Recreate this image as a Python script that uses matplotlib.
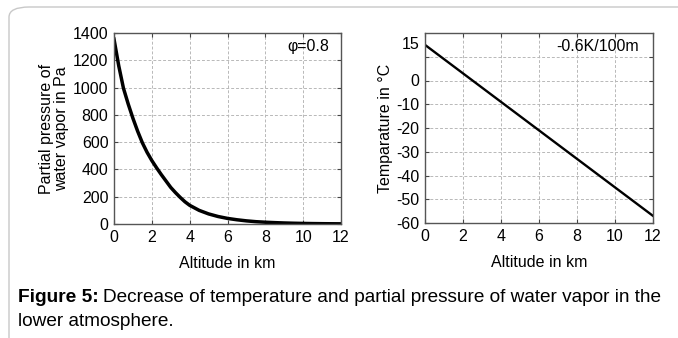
'''
Figure 5: temperature and water vapor partial pressure vs altitude.
'''

import matplotlib
matplotlib.use('Agg')
import matplotlib.pyplot as plt
import matplotlib.transforms as mtransforms
from matplotlib.patches import FancyBboxPatch

# altitude [km] and partial pressure of water vapor [Pa]
alt_p = [0, 0.25, 0.5, 0.75, 1.0, 1.25, 1.5, 1.75, 2.0, 2.25, 2.5, 2.75,
         3.0, 3.25, 3.5, 3.75, 4.0, 4.5, 5.0, 5.5, 6.0, 6.5, 7.0, 7.5,
         8.0, 8.5, 9.0, 9.5, 10.0, 10.5, 11.0, 11.5, 12.0]
pressure = [1355, 1160, 995, 880, 775, 680, 595, 525, 465, 412, 362, 315,
            268, 230, 195, 163, 137, 100, 74, 55, 41, 31, 23, 17,
            13, 10, 7.5, 5.6, 4.2, 3.1, 2.3, 1.7, 1.3]

# temperature [C] at 0 and 12 km (-0.6K/100m)
alt_t = [0, 12]
temperature = [15, -57]

xticks = [0, 2, 4, 6, 8, 10, 12]
pticks = [0, 200, 400, 600, 800, 1000, 1200, 1400]
tticks = [-60, -50, -40, -30, -20, -10, 0, 10]
tlabels = ['-60', '-50', '-40', '-30', '-20', '-10', '0', '']

matplotlib.rcParams.update({'font.family': 'Liberation Sans', 'font.size': 11})

def style_axes(ax):
    ax.grid(True, color='#b8b8b8', linestyle=(0, (3, 2)), linewidth=0.7)
    ax.tick_params(direction='in', length=3, top=True, right=True,
                   color='#444444', pad=4, labelsize=11.5)
    for s in ax.spines.values():
        s.set_color('#555555')
        s.set_linewidth(1.0)
    ax.set_axisbelow(True)

fig = plt.figure(figsize=(6.78, 3.38), dpi=100)

# rounded frame around figure + caption (behind the axes)
frame = FancyBboxPatch((9/678., -0.2), 1.2, 1.2 - 7/338.,
                       boxstyle='round,pad=0,rounding_size=0.03',
                       transform=fig.transFigure, facecolor='white',
                       edgecolor='#c8c8c8', linewidth=1.0, zorder=-5)
fig.patches.append(frame)

## Left: partial pressure
ax = fig.add_axes([114/678., 1 - 224/338., 227/678., 191/338.])
ax.plot(alt_p, pressure, color='k', linewidth=2.5, solid_joinstyle='round')
ax.set_xlim(0, 12)
ax.set_ylim(0, 1400)
ax.set_xticks(xticks)
ax.set_yticks(pticks)
style_axes(ax)
ax.set_xlabel('Altitude in km', fontsize=11.5, labelpad=8)
ax.set_ylabel('Partial pressure of\nwater vapor in Pa', fontsize=11.5,
              labelpad=3, linespacing=1.0)
ax.text(0.95, 0.93, u'\u03c6=0.8', transform=ax.transAxes, ha='right',
        va='center', fontsize=11.5)

## Right: temperature
ax2 = fig.add_axes([425/678., 1 - 223/338., 228/678., 190/338.])
ax2.plot(alt_t, temperature, color='k', linewidth=1.7)
ax2.set_xlim(0, 12)
ax2.set_ylim(-60, 20)
ax2.set_xticks(xticks)
ax2.set_yticks(tticks)
ax2.set_yticklabels(tlabels)
style_axes(ax2)
trans = mtransforms.blended_transform_factory(ax2.transAxes, ax2.transData)
ax2.text(-0.025, 15, '15', transform=trans, ha='right', va='center',
         fontsize=11.5)
ax2.set_xlabel('Altitude in km', fontsize=11.5, labelpad=8)
ax2.set_ylabel(u'Temparature in \u00b0C', fontsize=11.5, labelpad=2)
ax2.text(0.94, 0.93, '-0.6K/100m', transform=ax2.transAxes, ha='right',
         va='center', fontsize=11.5)

## Caption
t1 = fig.text(18/678., 1 - 298/338., 'Figure 5:', fontsize=13.8,
              fontweight='bold', va='center')
fig.canvas.draw()
bb = t1.get_window_extent(renderer=fig.canvas.get_renderer())
fig.text((bb.x1 + 4)/678., 1 - 298/338.,
         'Decrease of temperature and partial pressure of water vapor in the',
         fontsize=13.7, va='center')
fig.text(18/678., 1 - 322/338., 'lower atmosphere.', fontsize=13.7,
         va='center')

fig.savefig('out.png', dpi=100)
